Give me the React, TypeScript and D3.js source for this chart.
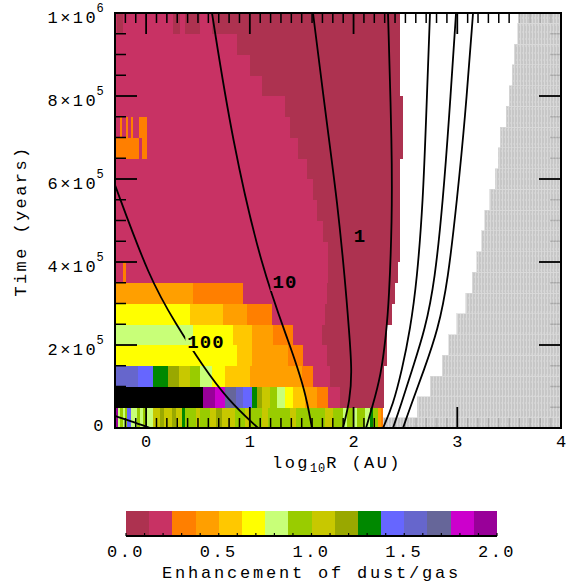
import React from "react";
import * as d3 from "d3";

const W = 568;
const H = 584;
const plot = { left: 115, right: 561, top: 13, bottom: 428 };

// Colour table for the dust/gas enhancement levels (0.125 wide each); last entry = off-scale
const levelColors = [
  "#AD3250", "#C83264", "#FF7F00", "#FF9F00", "#FFC800", "#FFFF00", "#C8FF78", "#99CC00",
  "#C8C800", "#99A800", "#008800", "#6666FF", "#6666CC", "#666699", "#CC00CC", "#990099",
  "#000000",
];

// Time rows of 5e4 yr; each row lists [upper log10R edge, level index], starting at log10R = -0.3
const rowStep = 5e4;
const rows: [number, number][][] = [
  [[-0.286, 2], [-0.271, 15], [-0.252, 6], [-0.223, 7], [-0.204, 6], [-0.184, 7], [-0.146, 11],
   [-0.088, 6], [-0.059, 7], [-0.030, 6], [0.009, 7], [0.066, 6], [0.134, 8], [0.172, 9],
   [0.250, 8], [0.288, 9], [0.346, 8], [0.375, 10], [0.481, 7], [0.520, 8], [0.616, 7],
   [0.674, 8], [0.732, 9], [0.857, 8], [0.953, 7], [1.002, 8], [1.117, 7], [1.175, 8],
   [1.387, 7], [1.445, 8], [1.725, 7], [1.802, 8], [1.898, 7], [1.937, 6], [1.995, 7],
   [2.033, 6], [2.110, 7], [2.159, 6], [2.187, 10], [2.236, 7], [2.265, 3], [2.284, 2]],
  [[0.548, 16], [0.664, 15], [0.761, 14], [0.867, 13], [0.934, 12], [1.021, 11], [1.069, 10],
   [1.117, 9], [1.194, 8], [1.262, 7], [1.339, 6], [1.416, 5], [1.532, 4], [1.648, 3],
   [1.754, 2], [1.869, 1], [2.294, 0]],
  [[-0.078, 12], [0.066, 11], [0.211, 10], [0.317, 9], [0.423, 8], [0.520, 7], [0.635, 6],
   [0.761, 5], [1.002, 4], [1.503, 3], [1.609, 2], [1.773, 1], [2.294, 0]],
  [[0.876, 5], [1.021, 4], [1.368, 3], [1.513, 2], [1.744, 1], [2.322, 0]],
  [[0.452, 6], [0.838, 5], [1.021, 4], [1.223, 3], [1.416, 2], [1.696, 1], [2.322, 0]],
  [[0.423, 5], [0.741, 4], [0.973, 3], [1.214, 2], [1.725, 1], [2.371, 0]],
  [[0.452, 3], [0.934, 2], [1.744, 1], [2.400, 0]],
  [[-0.223, 1], [-0.194, 2], [1.754, 1], [2.428, 0]],
  [[1.754, 1], [2.448, 0]],
  [[1.705, 1], [2.448, 0]],
  [[1.648, 1], [2.448, 0]],
  [[1.609, 1], [2.448, 0]],
  [[1.551, 1], [2.448, 0]],
  [[-0.069, 2], [-0.040, 1], [0.009, 2], [1.464, 1], [2.477, 0]],
  [[-0.252, 1], [-0.228, 2], [-0.194, 1], [-0.175, 2], [-0.146, 1], [-0.122, 2], [-0.069, 1],
   [0.009, 2], [1.387, 1], [2.477, 0]],
  [[1.339, 1], [2.477, 0]],
  [[1.117, 1], [2.448, 0]],
  [[1.002, 1], [2.448, 0]],
  [[0.876, 1], [2.448, 0]],
  [[-0.284, 1], [-0.223, 0], [0.259, 1], [0.327, 0], [0.375, 1], [0.520, 0], [0.635, 1], [2.448, 0]],
];

// Inner edge (log10R) of the excluded outer zone, one value per time node k*5e4 yr
const grayEdges = [
  2.284, 2.612, 2.737, 2.853, 2.920, 2.997, 3.084, 3.142, 3.190, 3.238, 3.267,
  3.315, 3.364, 3.393, 3.412, 3.470, 3.499, 3.528, 3.547, 3.585, 3.595,
];

// Contour polylines as [log10R, time] pairs
const contourLines: [number, number][][] = [
  [[-0.30, 29000], [-0.15, 17000], [0.04, 0]],
  [[-0.30, 585500], [0.0375, 356600], [0.288, 250600], [0.539, 151800], [0.789, 67500], [1.079, 0]],
  [[0.635, 1e6], [0.828, 694000], [1.117, 380700], [1.387, 200000], [1.532, 91600], [1.599, 0]],
  [[1.609, 1e6], [1.754, 710800], [1.841, 549400], [1.918, 356600], [1.956, 236100], [1.985, 139800], [1.966, 67500], [1.898, 0]],
  [[2.332, 1e6], [2.371, 669900], [2.371, 501200], [2.342, 308400], [2.313, 224100], [2.265, 127700], [2.178, 48200], [2.120, 0]],
  [[2.737, 1e6], [2.699, 742200], [2.670, 549400], [2.612, 356600], [2.545, 236100], [2.467, 139800], [2.380, 55400], [2.284, 0]],
  [[2.988, 1e6], [2.920, 742200], [2.862, 549400], [2.785, 356600], [2.689, 236100], [2.563, 139800], [2.457, 55400], [2.380, 0]],
  [[3.152, 1e6], [3.074, 742200], [2.997, 549400], [2.911, 356600], [2.814, 236100], [2.679, 139800], [2.554, 55400], [2.477, 0]],
];

const contourLabels = [
  { text: "100", x: 0.577, t: 209600 },
  { text: "10", x: 1.339, t: 354200 },
  { text: "1", x: 2.062, t: 465100 },
];

const xTicks = [0, 1, 2, 3, 4];
const yTicks = [0, 2e5, 4e5, 6e5, 8e5, 1e6];
const yTickMantissa = ["0", "2", "4", "6", "8", "1"];
const yTickExponent = ["", "5", "5", "5", "5", "6"];
const colorbarTicks = [0, 0.5, 1, 1.5, 2];

const FONT = "'Liberation Mono', 'DejaVu Sans Mono', monospace";

export default function App() {
  const x = d3.scaleLinear().domain([-0.3, 4]).range([plot.left, plot.right]);
  const y = d3.scaleLinear().domain([0, 1e6]).range([plot.bottom, plot.top]);
  const cb = d3.scaleLinear().domain([0, 2]).range([126, 497]);

  const line = d3
    .line<[number, number]>()
    .x((d) => x(d[0]))
    .y((d) => y(d[1]))
    .curve(d3.curveBasis);

  const cells: React.ReactNode[] = [];
  rows.forEach((row, i) => {
    let start = -0.3;
    const y0 = y((i + 1) * rowStep);
    const y1 = y(i * rowStep);
    row.forEach(([end, lvl], j) => {
      cells.push(
        <rect key={`c${i}-${j}`} x={x(start)} y={y0} width={x(end) - x(start) + 0.3}
          height={y1 - y0 + 0.3} fill={levelColors[lvl]} />
      );
      start = end;
    });
  });

  const grayCells = grayEdges.map((edge, k) => {
    const t0 = Math.max(0, (k - 0.5) * rowStep);
    const t1 = Math.min(1e6, (k + 0.5) * rowStep);
    return (
      <rect key={`g${k}`} x={x(edge)} y={y(t1)} width={plot.right - x(edge)}
        height={y(t0) - y(t1)} fill="url(#hatch)" stroke="#d6d6d6" strokeWidth={0.7} />
    );
  });

  const xMinor = d3.range(-2, 40).map((v) => v / 10).filter((v) => Math.abs(v - Math.round(v)) > 1e-6);
  const yMinor = d3.range(1, 20).map((v) => v * 5e4).filter((v) => v % 2e5 !== 0);

  // label boxes punched out of the contour lines
  const labelBoxes = contourLabels.map((l) => {
    const w = l.text.length * 12.4 + 4;
    return { x: x(l.x) - w / 2, y: y(l.t) - 10, w, h: 20 };
  });

  return (
    <svg width={W} height={H} style={{ position: "absolute", left: 0, top: 0, background: "#fff" }}
      fontFamily={FONT}>
      <defs>
        <pattern id="hatch" width={3} height={7} patternUnits="userSpaceOnUse">
          <rect width={3} height={7} fill="#c0c0c0" />
          <rect x={1} width={1} height={7} fill="#d4d4d4" />
          <rect x={0} y={3} width={1} height={2} fill="#cbcbcb" />
        </pattern>
        <mask id="labelGap" maskUnits="userSpaceOnUse" x={0} y={0} width={W} height={H}>
          <rect x={0} y={0} width={W} height={H} fill="#fff" />
          {labelBoxes.map((b, i) => (
            <rect key={`lb${i}`} x={b.x} y={b.y} width={b.w} height={b.h} fill="#000" />
          ))}
        </mask>
      </defs>

      <g shapeRendering="crispEdges">{cells}</g>

      {/* minor ticks */}
      <g stroke="#000" strokeWidth={1.5}>
        {xMinor.map((v) => (
          <g key={`xm${v}`}>
            <line x1={x(v)} x2={x(v)} y1={plot.bottom} y2={plot.bottom - 10} />
            <line x1={x(v)} x2={x(v)} y1={plot.top} y2={plot.top + 10} />
          </g>
        ))}
        {yMinor.map((v) => (
          <g key={`ym${v}`}>
            <line x1={plot.left} x2={plot.left + 11} y1={y(v)} y2={y(v)} />
            <line x1={plot.right} x2={plot.right - 11} y1={y(v)} y2={y(v)} />
          </g>
        ))}
      </g>

      <g opacity={0.88} shapeRendering="crispEdges">{grayCells}</g>

      {/* contours */}
      <g fill="none" stroke="#000" strokeWidth={1.8} mask="url(#labelGap)">
        {contourLines.map((pts, i) => (
          <path key={`k${i}`} d={line(pts) ?? ""} />
        ))}
      </g>
      {contourLabels.map((l) => (
        <text key={l.text} x={x(l.x)} y={y(l.t) + 7} textAnchor="middle" fontSize={19}
          fontWeight="bold" letterSpacing={1}>
          {l.text}
        </text>
      ))}

      {/* major ticks */}
      <g stroke="#000" strokeWidth={1.8}>
        {xTicks.map((v) => (
          <g key={`xM${v}`}>
            <line x1={x(v)} x2={x(v)} y1={plot.bottom} y2={plot.bottom - 21} />
            <line x1={x(v)} x2={x(v)} y1={plot.top} y2={plot.top + 21} />
          </g>
        ))}
        {yTicks.map((v) => (
          <g key={`yM${v}`}>
            <line x1={plot.left} x2={plot.left + 22} y1={y(v)} y2={y(v)} />
            <line x1={plot.right} x2={plot.right - 22} y1={y(v)} y2={y(v)} />
          </g>
        ))}
      </g>

      <rect x={plot.left} y={plot.top} width={plot.right - plot.left} height={plot.bottom - plot.top}
        fill="none" stroke="#000" strokeWidth={2} />

      {/* x tick labels */}
      {xTicks.map((v) => (
        <text key={`xl${v}`} x={x(v)} y={447} textAnchor="middle" fontSize={17}>
          {String(v)}
        </text>
      ))}
      {/* y tick labels */}
      {yTicks.map((v, i) =>
        yTickExponent[i] === "" ? (
          <text key={`yl${v}`} x={103.5} y={y(v) + 2.5} textAnchor="end" fontSize={17}>
            {yTickMantissa[i]}
          </text>
        ) : (
          <g key={`yl${v}`}>
            <text x={98} y={y(v) + 9.5} textAnchor="end" fontSize={17} letterSpacing={2.4}>
              {`${yTickMantissa[i]}×10`}
            </text>
            <text x={96.5} y={y(v) - 1} fontSize={12}>
              {yTickExponent[i]}
            </text>
          </g>
        )
      )}

      <text x={337} y={468} textAnchor="middle" fontSize={17} letterSpacing={2.4}>
        log
        <tspan fontSize={12} dy={4} letterSpacing={1}>10</tspan>
        <tspan dy={-4}>R (AU)</tspan>
      </text>
      <text transform="translate(26,221) rotate(-90)" textAnchor="middle" fontSize={17}
        letterSpacing={2.4}>
        Time (years)
      </text>

      {/* colour bar */}
      <g shapeRendering="crispEdges">
        {levelColors.slice(0, 16).map((c, i) => (
          <rect key={`cb${i}`} x={cb(i * 0.125)} y={511} width={cb((i + 1) * 0.125) - cb(i * 0.125) + 0.3}
            height={25} fill={c} />
        ))}
      </g>
      <line x1={cb(0)} x2={cb(2)} y1={536} y2={536} stroke="#000" strokeWidth={2} />
      {d3.range(0, 21).map((i) => (
        <line key={`cbt${i}`} x1={cb(i / 10)} x2={cb(i / 10)} y1={536} y2={533} stroke="#000"
          strokeWidth={1.2} />
      ))}
      {colorbarTicks.map((v) => (
        <text key={`cbl${v}`} x={cb(v)} y={557} textAnchor="middle" fontSize={17} letterSpacing={2.4}>
          {d3.format(".1f")(v)}
        </text>
      ))}
      <text x={cb(1)} y={578} textAnchor="middle" fontSize={17} letterSpacing={2.8}>
        Enhancement of dust/gas
      </text>
    </svg>
  );
}
